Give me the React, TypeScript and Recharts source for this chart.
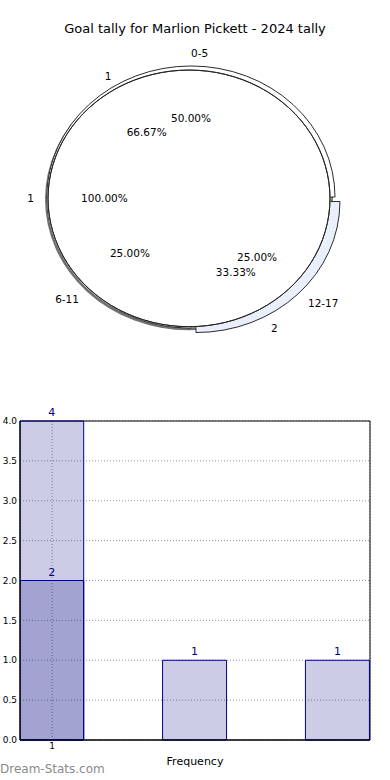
import React from 'react';
import { PieChart, Pie, Cell, BarChart, Bar, XAxis, YAxis, CartesianGrid, LabelList, ReferenceArea } from 'recharts';

const chartTitle = 'Goal tally for Marlion Pickett - 2024 tally';

// outer pie: age groups
const ageGroups = ['0-5', '6-11', '12-17'];
const ageShares = [50, 25, 25];
const ageExplode = [0, 0, 7];
const ageFills = ['#ffffff', '#ffffff', '#e9effb'];

// inner pie (drawn on top)
const tallyNames = ['1', '2'];
const tallyShares = [2, 1];
const tallyLabelShift = [0, 9];
const wholeNames = ['1'];
const wholeShares = [1];

// frequency bars
const freqX = [1, 2, 3];
const freqTotal = [4, 1, 1];
const freqFirst = [2, null, null];
const xTicks = [1];
const yTicks = [0, 0.5, 1, 1.5, 2, 2.5, 3, 3.5, 4];
const xDomain: [number, number] = [0.775, 3.225];

const SY = 0.91;
const RAD = Math.PI / 180;
const FONT = 'DejaVu Sans, sans-serif';

const toRows = (names: string[], shares: number[]) => names.map((n, i) => ({ name: n, value: shares[i] }));
const ageRows = toRows(ageGroups, ageShares);
const tallyRows = toRows(tallyNames, tallyShares);
const wholeRows = toRows(wholeNames, wholeShares);
const freqRows = freqX.map((x, i) => ({ x, total: freqTotal[i], first: freqFirst[i] }));

const Txt = ({ x, y, anchor, children }: any) => (
  <text
    x={x}
    y={y}
    transform={`translate(0 ${y}) scale(1 ${1 / SY}) translate(0 ${-y})`}
    textAnchor={anchor}
    dominantBaseline="central"
    fontSize={10.5}
    fontFamily={FONT}
    fill="#000"
  >
    {children}
  </text>
);

function makeLabel(names: string[], explode: number[]) {
  return (p: any) => {
    const i = p.index ?? names.indexOf(p.name);
    const a = p.midAngle * RAD;
    const cos = Math.cos(a);
    const sin = Math.sin(a);
    const e = explode[i] || 0;
    const cx = p.cx + e * cos;
    const cy = p.cy - e * sin;
    const r = p.outerRadius;
    return (
      <g>
        <Txt x={cx + 1.1 * r * cos} y={cy - 1.1 * r * sin} anchor={cos >= 0 ? 'start' : 'end'}>
          {names[i]}
        </Txt>
        <Txt x={cx + 0.6 * r * cos} y={cy - 0.6 * r * sin} anchor="middle">
          {(p.percent * 100).toFixed(2) + '%'}
        </Txt>
      </g>
    );
  };
}

const outer = { cx: 191, cy: 216.5, r: 144 };
const disc = { cx: 189, cy: 218, r: 141 };

// exploded wedge geometry from the data
const ageTotal = ageShares.reduce((a, b) => a + b, 0);
const expIdx = 2;
const expStart = (360 * ageShares.slice(0, expIdx).reduce((a, b) => a + b, 0)) / ageTotal;
const expEnd = expStart + (360 * ageShares[expIdx]) / ageTotal;
const expMid = ((expStart + expEnd) / 2) * RAD;
const expCx = outer.cx + ageExplode[expIdx] * Math.cos(expMid);
const expCy = outer.cy - ageExplode[expIdx] * Math.sin(expMid);

const noMargin = { top: 0, right: 0, bottom: 0, left: 0 };

export default function App() {
  return (
    <div style={{ position: 'absolute', left: 0, top: 0, width: 390, height: 780, background: '#fff' }}>
      <div style={{ position: 'absolute', left: 0, top: 0, transform: `scaleY(${SY})`, transformOrigin: '0 0' }}>
        <PieChart width={390} height={400} margin={noMargin}>
          <Pie data={ageRows} dataKey="value" cx={outer.cx - 2} cy={outer.cy + 2.5} outerRadius={outer.r}
            fill="#707070" stroke="none" isAnimationActive={false} />
          <Pie data={ageRows} dataKey="value" cx={outer.cx} cy={outer.cy} outerRadius={outer.r}
            stroke="#222" strokeWidth={1} isAnimationActive={false}>
            {ageRows.map((_, i) => (
              <Cell key={i} fill={i === expIdx ? 'none' : ageFills[i]} stroke={i === expIdx ? 'none' : '#222'} />
            ))}
          </Pie>
          <Pie data={[ageRows[expIdx]]} dataKey="value" cx={expCx} cy={expCy} outerRadius={outer.r}
            startAngle={expStart} endAngle={expEnd} fill={ageFills[expIdx]} stroke="#222" strokeWidth={1}
            isAnimationActive={false} />
          <Pie data={tallyRows} dataKey="value" cx={disc.cx} cy={disc.cy} outerRadius={disc.r}
            fill="#fff" stroke="#fff" strokeWidth={1.5} labelLine={false}
            label={makeLabel(tallyNames, tallyLabelShift)} isAnimationActive={false} />
          <Pie data={wholeRows} dataKey="value" cx={disc.cx} cy={disc.cy} outerRadius={disc.r} innerRadius={disc.r}
            fill="none" stroke="#222" strokeWidth={1} labelLine={false} label={makeLabel(wholeNames, [0])}
            isAnimationActive={false} />
          <Pie data={ageRows} dataKey="value" cx={outer.cx} cy={outer.cy} outerRadius={outer.r}
            fill="none" stroke="none" labelLine={false} label={makeLabel(ageGroups, ageExplode)}
            isAnimationActive={false} />
        </PieChart>
      </div>
      <div style={{ position: 'absolute', left: 0, top: 21, width: 390, textAlign: 'center', fontFamily: FONT, fontSize: 13, color: '#000' }}>
        {chartTitle}
      </div>
      <div style={{ position: 'absolute', left: 0, top: 400 }}>
        <BarChart width={390} height={380} data={freqRows} margin={{ top: 21, right: 20, bottom: 0, left: 0 }}>
          <CartesianGrid stroke="#9a9a9a" strokeDasharray="1 2" />
          <XAxis dataKey="x" type="number" domain={xDomain} ticks={xTicks} allowDataOverflow height={40}
            tickSize={3} tickMargin={0} tickLine={false} axisLine={{ stroke: '#000' }}
            tick={{ fontSize: 9, fill: '#000', fontFamily: FONT }}
            label={{ value: 'Frequency', position: 'insideBottom', offset: 15, fontSize: 11, fill: '#000', fontFamily: FONT }} />
          <XAxis xAxisId="over" dataKey="x" type="number" domain={xDomain} allowDataOverflow hide />
          <YAxis domain={[0, 4]} ticks={yTicks} width={20} tickSize={3} tickMargin={0} tickLine={false}
            axisLine={{ stroke: '#000' }} tickFormatter={(v: number) => v.toFixed(1)}
            tick={{ fontSize: 9, fill: '#000', fontFamily: FONT }} />
          <Bar dataKey="total" fill="#000080" fillOpacity={0.2} stroke="#000080" strokeWidth={1} barSize={64}
            isAnimationActive={false}>
            <LabelList dataKey="total" position="top" fill="#000080" fontSize={11} fontFamily={FONT} />
          </Bar>
          <Bar dataKey="first" xAxisId="over" fill="#000080" fillOpacity={0.2} stroke="#000080" strokeWidth={1}
            barSize={64} isAnimationActive={false}>
            <LabelList dataKey="first" position="top" fill="#000080" fontSize={11} fontFamily={FONT} />
          </Bar>
          <ReferenceArea x1={xDomain[0]} x2={xDomain[1]} y1={0} y2={4} fill="none" stroke="#000" strokeWidth={1} />
        </BarChart>
      </div>
      <div style={{ position: 'absolute', left: 0, top: 762, fontFamily: FONT, fontSize: 12, color: '#8a8a8a' }}>
        Dream-Stats.com
      </div>
    </div>
  );
}
